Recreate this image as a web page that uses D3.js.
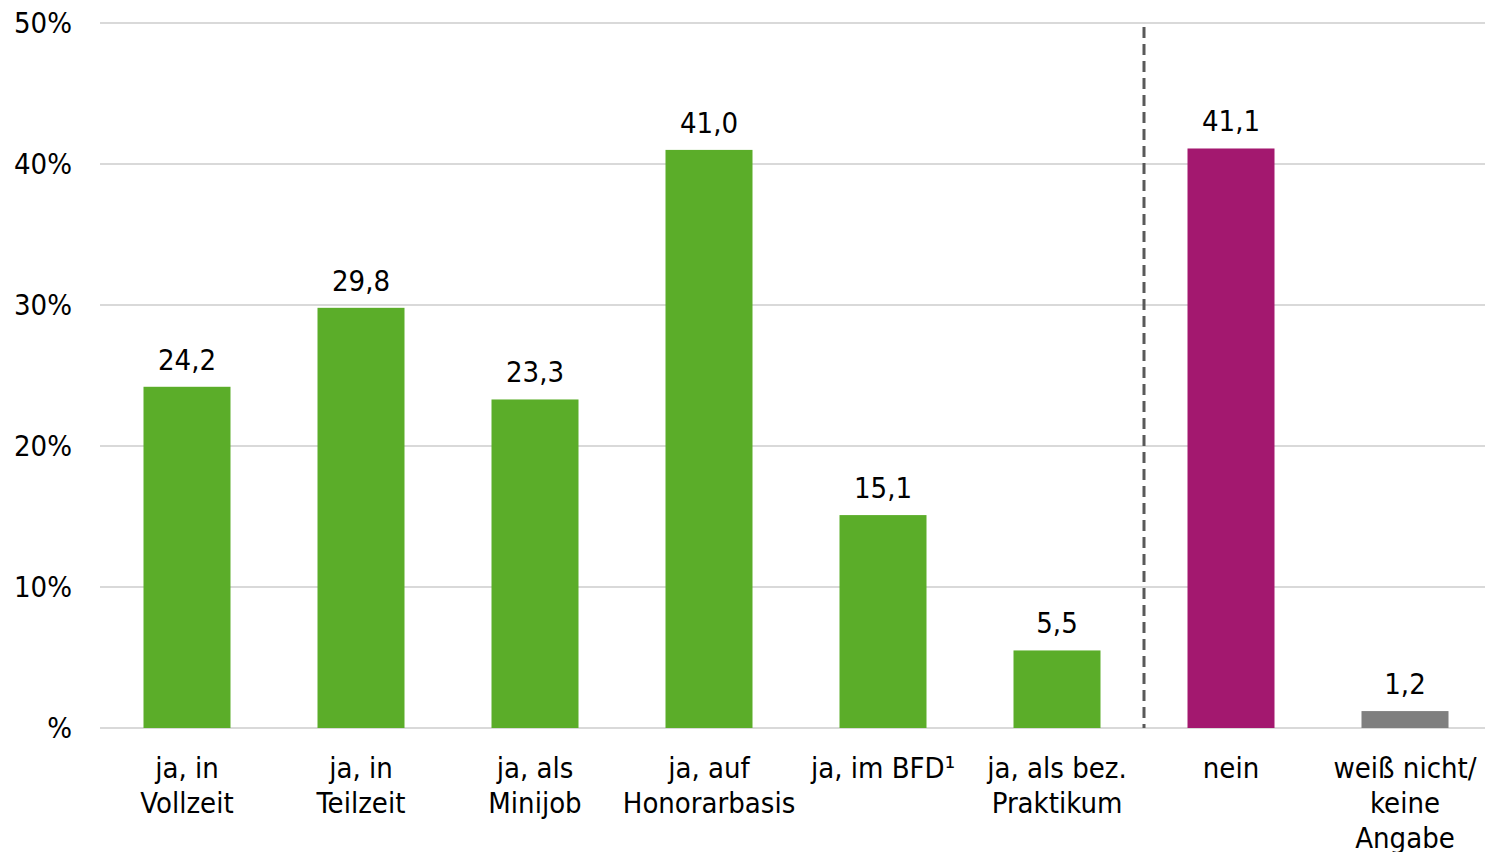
<!DOCTYPE html>
<html>
<head>
<meta charset="utf-8">
<script src="https://cdn.jsdelivr.net/npm/d3@7"></script>
<style>
  html, body { margin: 0; padding: 0; background: #fff; }
  svg text { font-family: Tahoma, "DejaVu Sans Condensed", "DejaVu Sans", sans-serif; fill: #000; }
</style>
</head>
<body>
<svg id="svg"></svg>
<script>
// Chart data
const categories = [
    ["ja, in", "Vollzeit"],
    ["ja, in", "Teilzeit"],
    ["ja, als", "Minijob"],
    ["ja, auf", "Honorarbasis"],
    ["ja, im BFD¹"],
    ["ja, als bez.", "Praktikum"],
    ["nein"],
    ["weiß nicht/", "keine", "Angabe"]
];
const values = [24.2, 29.8, 23.3, 41.0, 15.1, 5.5, 41.1, 1.2];
const barColors = ["#5BAD29", "#5BAD29", "#5BAD29", "#5BAD29", "#5BAD29", "#5BAD29", "#A3186F", "#7F7F7F"];
const yTicks = [0, 10, 20, 30, 40, 50];
const yTickLabels = ["%", "10%", "20%", "30%", "40%", "50%"];

const width = 1485, height = 852;
const margin = { top: 23, right: -7, bottom: 124, left: 100 };

const svg = d3.select("#svg")
    .attr("width", width)
    .attr("height", height);

const x = d3.scaleBand()
    .domain(d3.range(values.length))
    .range([margin.left, width - margin.right])
    .paddingInner(0.5)
    .paddingOuter(0.25);

const y = d3.scaleLinear()
    .domain([0, 50])
    .range([height - margin.bottom, margin.top]);

// Gridlines
svg.append("g")
    .selectAll("line")
    .data(yTicks)
    .join("line")
    .attr("x1", margin.left)
    .attr("x2", width)
    .attr("y1", d => y(d))
    .attr("y2", d => y(d))
    .attr("stroke", "#D9D9D9")
    .attr("stroke-width", 2);

// Y tick labels
svg.append("g")
    .selectAll("text")
    .data(yTicks)
    .join("text")
    .attr("x", 72)
    .attr("y", d => y(d))
    .attr("dy", "0.36em")
    .attr("text-anchor", "end")
    .style("font-size", "29px")
    .text((d, i) => yTickLabels[i]);

// Bars
svg.append("g")
    .selectAll("rect")
    .data(values)
    .join("rect")
    .attr("x", (d, i) => x(i))
    .attr("width", x.bandwidth())
    .attr("y", d => y(d))
    .attr("height", d => y(0) - y(d))
    .attr("fill", (d, i) => barColors[i]);

// Value labels
svg.append("g")
    .selectAll("text")
    .data(values)
    .join("text")
    .attr("x", (d, i) => x(i) + x.bandwidth() / 2)
    .attr("y", d => y(d) - 17)
    .attr("text-anchor", "middle")
    .style("font-size", "29px")
    .text(d => d.toFixed(1).replace(".", ","));

// Category labels
const labels = svg.append("g")
    .selectAll("text")
    .data(categories)
    .join("text")
    .attr("x", (d, i) => x(i) + x.bandwidth() / 2)
    .attr("y", y(0) + 50)
    .attr("text-anchor", "middle")
    .style("font-size", "29px");

labels.selectAll("tspan")
    .data(d => d)
    .join("tspan")
    .attr("x", function () { return d3.select(this.parentNode).attr("x"); })
    .attr("dy", (d, i) => i === 0 ? 0 : 35)
    .text(d => d);

// Dashed separator between "ja" answers and the rest (band boundary)
const sepX = x(6) - x.step() * x.paddingOuter();
svg.append("line")
    .attr("x1", sepX)
    .attr("x2", sepX)
    .attr("y1", 27)
    .attr("y2", y(0))
    .attr("stroke", "#595959")
    .attr("stroke-width", 3)
    .attr("stroke-dasharray", "11,6");
</script>
</body>
</html>
